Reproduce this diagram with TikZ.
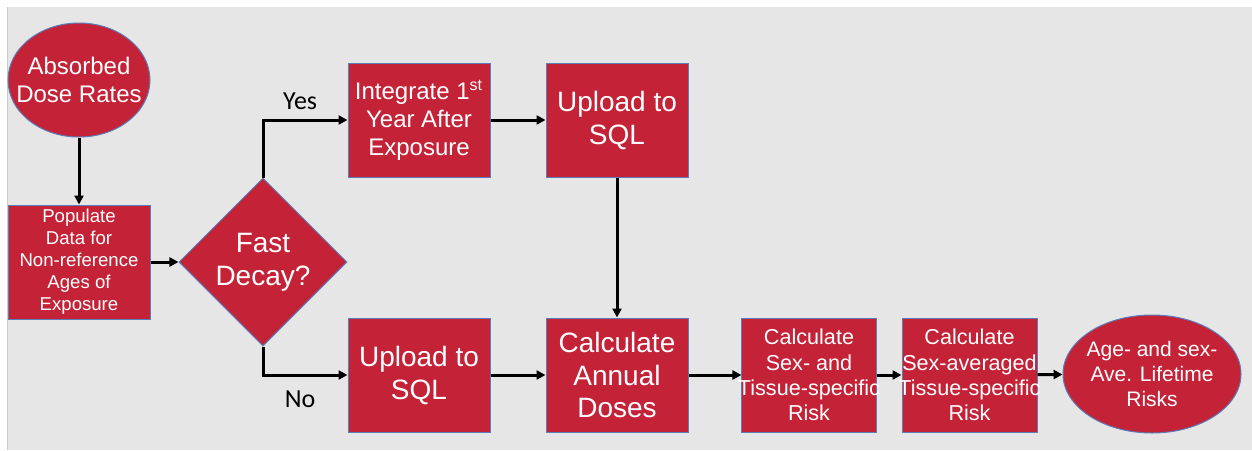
\documentclass[tikz,border=0pt]{standalone}
\usepackage{fontspec}
\setmainfont{Liberation Sans}
\newfontfamily\lblfont{Carlito}
\usetikzlibrary{shapes.geometric,arrows.meta}
\definecolor{doseRed}{HTML}{C42237}
\definecolor{edgeBlue}{HTML}{5B7DB8}
\definecolor{bgGrey}{HTML}{E6E6E6}
\tikzset{
  stepbox/.style={draw=edgeBlue, line width=0.5pt, fill=doseRed, text=white, inner sep=0pt, align=center, minimum width=71pt, minimum height=57pt},
  roundbox/.style={ellipse, draw=edgeBlue, line width=0.5pt, fill=doseRed, text=white, inner sep=-7pt, align=center, minimum width=71pt, minimum height=57pt},
  decision/.style={diamond, aspect=1, draw=edgeBlue, line width=0.5pt, fill=doseRed, text=white, inner sep=0pt, align=center, minimum size=84pt},
  arr/.style={-{Triangle[length=4.5pt,width=4.5pt]}, line width=1.5pt},
  lbl/.style={font=\lblfont\fontsize{13}{15}\selectfont}
}
\begin{document}
\begin{tikzpicture}[x=0.5pt,y=-0.5pt]
\useasboundingbox (0,0) rectangle (1252,450);
\fill[bgGrey] (7,7) rectangle (1252,450);
\draw[black!20] (7,7) -- (7,450);
% left column
\node[roundbox, font=\fontsize{12}{14}\selectfont] (dose) at (79,80) {Absorbed\\Dose Rates};
\node[stepbox, font=\fontsize{9.3}{11}\selectfont] (pop) at (79,262) {Populate\\Data for\\Non-reference\\Ages of\\Exposure};
\node[decision, font=\fontsize{14}{16.5}\selectfont] (fast) at (263,262) {Fast\\Decay?};
% yes branch
\node[stepbox, font=\fontsize{12}{14}\selectfont] (integ) at (419,120) {Integrate 1\textsuperscript{st}\\Year After\\Exposure};
\node[stepbox, font=\fontsize{14}{16.5}\selectfont] (upA) at (617,120) {Upload to\\SQL};
% no branch
\node[stepbox, font=\fontsize{14}{16.5}\selectfont] (upB) at (419,375) {Upload to\\SQL};
\node[stepbox, font=\fontsize{14}{16.2}\selectfont] (annual) at (617,375) {Calculate\\Annual\\Doses};
\node[stepbox, inner xsep=-2pt, minimum width=67pt, font=\fontsize{10.8}{12.6}\selectfont] (sexrisk) at (809,375) {Calculate\\Sex- and\\Tissue-specific\\Risk};
\node[stepbox, inner xsep=-2pt, minimum width=67.5pt, font=\fontsize{10.8}{12.6}\selectfont] (avgrisk) at (969.5,375) {Calculate\\Sex-averaged\\Tissue-specific\\Risk};
\node[roundbox, minimum width=89pt, minimum height=59pt, font=\fontsize{10.5}{12.5}\selectfont] (life) at (1152,374) {Age- and sex-\\Ave. Lifetime\\Risks};
% connectors
\draw[arr] (dose) -- (pop);
\draw[arr] (pop) -- (fast);
\draw[arr] (fast.north) |- (integ.west) node[lbl, pos=0.72, above=1pt]{Yes};
\draw[arr] (fast.south) |- (upB.west) node[lbl, pos=0.72, below=4pt]{No};
\draw[arr] (integ) -- (upA);
\draw[arr] (upA) -- (annual);
\draw[arr] (upB) -- (annual);
\draw[arr] (annual) -- (sexrisk);
\draw[arr] (sexrisk) -- (avgrisk);
\draw[arr] (avgrisk) -- (life);
\end{tikzpicture}
\end{document}
